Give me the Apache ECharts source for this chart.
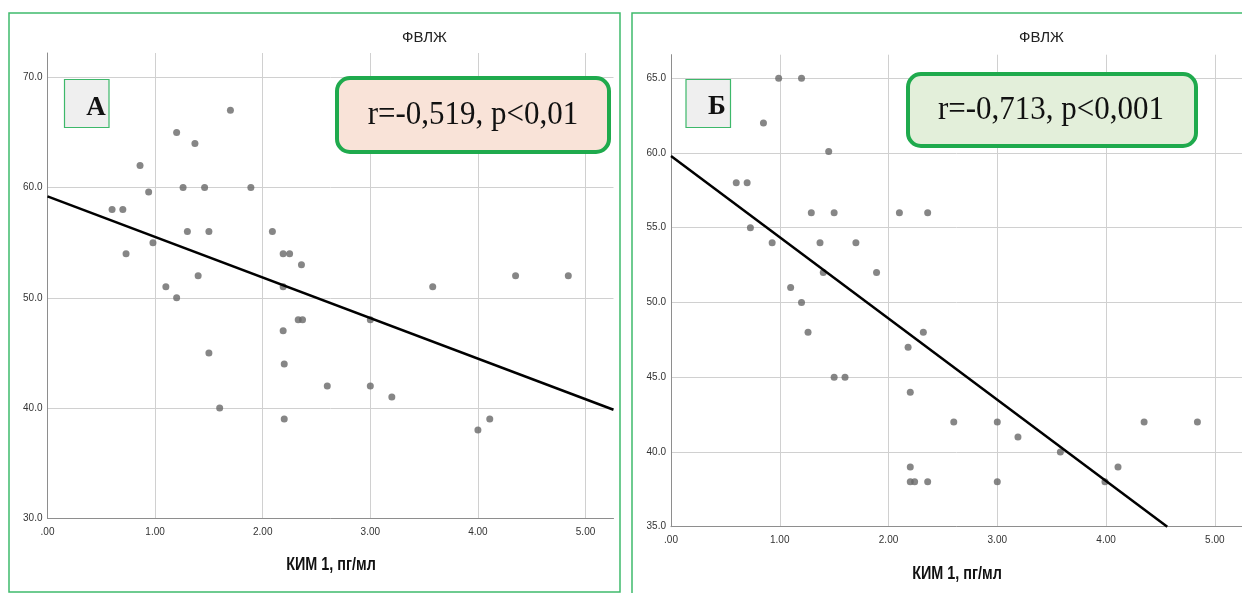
<!DOCTYPE html>
<html>
<head>
<meta charset="utf-8">
<script src="https://cdn.jsdelivr.net/npm/echarts@6/dist/echarts.min.js"></script>
<style>
  html, body { margin: 0; padding: 0; background: #ffffff; }
  #chart { width: 1242px; height: 593px; }
</style>
</head>
<body>
<div id="chart"></div>
<script>
// КИМ 1 (пг/мл) vs ФВЛЖ (%), panel А
const kimA = [0.60, 0.70, 0.73, 0.86, 0.94, 0.98, 1.10, 1.20, 1.20, 1.26, 1.30, 1.37, 1.40, 1.46, 1.50, 1.50, 1.60, 1.70, 1.89, 2.09,
              2.19, 2.25, 2.36, 2.19, 2.19, 2.33, 2.37, 2.20, 2.20, 2.60, 3.00, 3.00, 3.20, 3.58, 4.00, 4.11, 4.35, 4.84];
const fvlzhA = [58, 58, 54, 62, 59.6, 55, 51, 65, 50, 60, 56, 64, 52, 60, 56, 45, 40, 67, 60, 56,
                54, 54, 53, 51, 47, 48, 48, 44, 39, 42, 48, 42, 41, 51, 38, 39, 52, 52];

// КИМ 1 (пг/мл) vs ФВЛЖ (%), panel Б
const kimB = [0.99, 1.20, 0.85, 1.45, 0.60, 0.70, 0.73, 0.93, 1.29, 1.50, 2.10, 2.36, 1.37, 1.70, 1.40, 1.89, 1.10, 1.20, 1.26,
              1.50, 1.60, 2.18, 2.32, 2.20, 2.20, 2.20, 2.24, 2.36, 2.60, 3.00, 3.19, 3.58, 3.00, 3.99, 4.11, 4.35, 4.84];
const fvlzhB = [65, 65, 62, 60.1, 58, 58, 55, 54, 56, 56, 56, 56, 54, 54, 52, 52, 51, 50, 48,
                45, 45, 47, 48, 44, 39, 38, 38, 38, 42, 42, 41, 40, 38, 38, 39, 42, 42];

// Linear fits (intercept, slope)
const fitA = { intercept: 59.2, slope: -3.68 };
const fitB = { intercept: 59.8, slope: -5.435 };

// Axis ranges
const xRange = { min: 0, maxA: 5.26, maxB: 5.25, interval: 1 };
const yRangeA = { min: 30, max: 72.2, interval: 10 };
const yRangeB = { min: 35, max: 66.57, interval: 5 };

// Texts
const yTitle = 'ФВЛЖ';
const xTitle = 'КИМ 1, пг/мл';
const panelLetters = ['А', 'Б'];
const statTexts = ['r=-0,519, p<0,01', 'r=-0,713, p<0,001'];

const zip = (xs, ys) => xs.map((x, i) => [x, ys[i]]);

// Fit segment from x = 0 to where it leaves the plot (right edge or bottom)
function fitSegment(fit, xMax, yMin) {
  let xEnd = xMax;
  let yEnd = fit.intercept + fit.slope * xMax;
  if (yEnd < yMin) {
    xEnd = (yMin - fit.intercept) / fit.slope;
    yEnd = yMin;
  }
  return [[0, fit.intercept], [xEnd, yEnd]];
}

const gridColor = '#d0d0d0';
const axisColor = '#8e8e8e';
const labelStyle = { color: '#333333', fontSize: 10, fontFamily: 'Liberation Sans, Arial, sans-serif' };

function xAxisFor(gridIndex, max) {
  return {
    type: 'value', gridIndex, min: xRange.min, max, interval: xRange.interval,
    axisLine: { show: true, onZero: false, lineStyle: { color: axisColor, width: 1 } },
    axisTick: { show: false },
    axisLabel: Object.assign({}, labelStyle, {
      margin: 9, showMaxLabel: false,
      formatter: v => v.toFixed(2).replace(/^0(?=\.)/, '')
    }),
    splitLine: { show: true, showMaxLine: false, lineStyle: { color: gridColor, width: 1 } }
  };
}

function yAxisFor(gridIndex, r) {
  return {
    type: 'value', gridIndex, min: r.min, max: r.max, interval: r.interval,
    axisLine: { show: true, onZero: false, lineStyle: { color: axisColor, width: 1 } },
    axisTick: { show: false },
    axisLabel: Object.assign({}, labelStyle, {
      margin: 5, showMaxLabel: false, verticalAlign: 'middle', padding: [3, 0, 0, 0],
      formatter: v => v.toFixed(1)
    }),
    splitLine: { show: true, showMaxLine: false, lineStyle: { color: gridColor, width: 1 } }
  };
}

const pointStyle = { color: '#686868' };

function textEl(x, y, text, style, extra) {
  return Object.assign({
    type: 'text', x, y, silent: true, z: 100,
    style: Object.assign({ text, align: 'center', verticalAlign: 'middle' }, style)
  }, extra || {});
}

function badge(x, y, w, h, fill, text, cx, cy) {
  return [
    { type: 'rect', z: 90, silent: true, shape: { x, y, width: w, height: h, r: 13 },
      style: { fill, stroke: '#1faa4d', lineWidth: 4 } },
    textEl(cx, cy, text, { font: '31px "Liberation Serif", "Times New Roman", serif', fill: '#111111' },
      { scaleY: 1.1 })
  ];
}

function letterBox(x, y, w, h, letter, cx, cy) {
  return [
    { type: 'rect', z: 90, silent: true, shape: { x, y, width: w, height: h },
      style: { fill: '#efefef', stroke: '#3db86a', lineWidth: 1.2 } },
    textEl(cx, cy, letter, { font: 'bold 27px "Liberation Serif", "Times New Roman", serif', fill: '#111111' })
  ];
}

const chart = echarts.init(document.getElementById('chart'), null, { renderer: 'canvas' });

chart.setOption({
  animation: false,
  backgroundColor: '#ffffff',
  grid: [
    { left: 47.5, top: 53, width: 566, height: 465.3 },
    { left: 671, top: 54.7, width: 571, height: 472 }
  ],
  xAxis: [xAxisFor(0, xRange.maxA), xAxisFor(1, xRange.maxB)],
  yAxis: [yAxisFor(0, yRangeA), yAxisFor(1, yRangeB)],
  series: [
    { type: 'scatter', xAxisIndex: 0, yAxisIndex: 0, data: zip(kimA, fvlzhA),
      symbolSize: 7, itemStyle: pointStyle, z: 3 },
    { type: 'line', xAxisIndex: 0, yAxisIndex: 0, data: fitSegment(fitA, xRange.maxA, yRangeA.min),
      symbol: 'none', lineStyle: { color: '#000000', width: 2.5 }, z: 4 },
    { type: 'scatter', xAxisIndex: 1, yAxisIndex: 1, data: zip(kimB, fvlzhB),
      symbolSize: 7, itemStyle: pointStyle, z: 3 },
    { type: 'line', xAxisIndex: 1, yAxisIndex: 1, data: fitSegment(fitB, xRange.maxB, yRangeB.min),
      symbol: 'none', lineStyle: { color: '#000000', width: 2.5 }, z: 4 }
  ],
  graphic: [
    // panel frames
    { type: 'rect', silent: true, z: 80, shape: { x: 9, y: 13, width: 611, height: 579 },
      style: { fill: 'none', stroke: '#3fba6c', lineWidth: 1.5 } },
    { type: 'rect', silent: true, z: 80, shape: { x: 632, y: 13, width: 640, height: 600 },
      style: { fill: 'none', stroke: '#3fba6c', lineWidth: 1.5 } },
    // axis titles
    textEl(424.5, 37.5, yTitle, { font: '15px "Liberation Sans", Arial, sans-serif', fill: '#222222' }),
    textEl(1041.5, 37.5, yTitle, { font: '15px "Liberation Sans", Arial, sans-serif', fill: '#222222' }),
    textEl(331, 565, xTitle, { font: 'bold 18px "Liberation Sans", Arial, sans-serif', fill: '#111111' }, { scaleX: 0.8 }),
    textEl(957, 574, xTitle, { font: 'bold 18px "Liberation Sans", Arial, sans-serif', fill: '#111111' }, { scaleX: 0.8 }),
    // panel letters
    ...letterBox(64.5, 79.5, 44.5, 48, panelLetters[0], 96, 108),
    ...letterBox(686, 79.5, 44.5, 48, panelLetters[1], 717, 107.5),
    // correlation badges
    ...badge(337, 78, 272, 74, '#f9e3d8', statTexts[0], 473, 115),
    ...badge(908, 74, 288, 72, '#e3efda', statTexts[1], 1051, 110)
  ]
});
</script>
</body>
</html>
